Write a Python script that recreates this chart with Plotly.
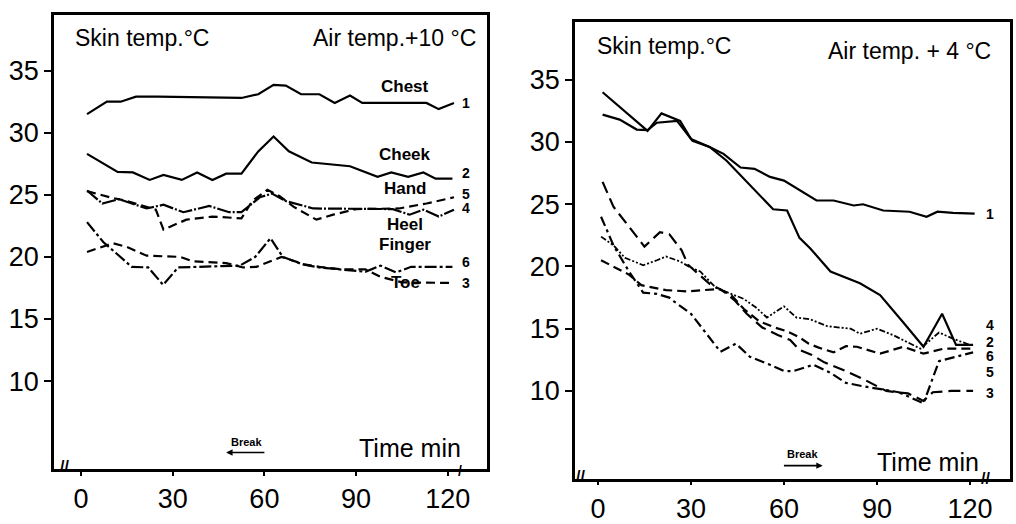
import plotly.graph_objects as go

# ---------------- Left panel: Air temp +10 °C ----------------
L_t_chest = [2, 8.5, 13, 18, 25, 52.5, 58, 63, 67, 72, 78, 83, 88, 92, 102, 113, 117, 122]
L_chest = [31.5, 32.5, 32.5, 32.9, 32.9, 32.8, 33.1, 33.85, 33.8, 33.1, 33.1, 32.4, 33.0, 32.4, 32.4, 32.4, 31.9, 32.4]

L_t_cheek = [2, 12, 17, 22.5, 27, 33, 38, 43, 47.5, 52.5, 58, 63, 68, 75.5, 88, 97, 101.5, 107, 112, 116, 121.5]
L_cheek = [28.3, 26.85, 26.8, 26.2, 26.6, 26.2, 26.8, 26.2, 26.7, 26.7, 28.5, 29.7, 28.5, 27.6, 27.3, 26.45, 26.8, 26.45, 26.8, 26.3, 26.3]

L_t_heel = [2, 7, 12.5, 21.5, 27, 33.5, 42, 48.5, 52.5, 58.5, 62.5, 67, 76, 92, 102, 107.5, 112, 117, 122]
L_heel = [25.35, 24.3, 24.65, 23.9, 24.2, 23.6, 24.1, 23.6, 23.6, 24.8, 25.1, 24.5, 23.9, 23.9, 23.85, 23.4, 23.8, 23.25, 23.8]

L_t_hand = [2, 9.5, 15, 24.5, 27, 34.5, 43, 52.5, 56, 61, 65, 69.5, 77, 82.5, 90, 96.5, 104, 113, 122]
L_hand = [25.3, 24.8, 24.5, 23.8, 22.2, 23.0, 23.25, 23.1, 24.5, 25.4, 24.9, 24.05, 23.0, 23.4, 23.85, 23.9, 23.9, 24.3, 24.8]

L_t_finger = [2, 7.3, 12.2, 16.6, 22, 26.9, 31.8, 42, 52, 57, 62, 66, 72.5, 78, 85, 93, 98, 103, 108, 121.5]
L_finger = [22.8, 21.2, 20.15, 19.2, 19.15, 17.75, 19.15, 19.2, 19.3, 20.0, 21.5, 20.0, 19.4, 19.15, 19.0, 18.8, 19.3, 18.75, 19.2, 19.2]

L_t_toe = [2, 10.5, 15, 21.5, 32.5, 36.5, 47.5, 53, 57.4, 61.8, 65.6, 73, 78, 85, 93, 98, 105, 121.5]
L_toe = [20.4, 21.1, 20.8, 20.1, 20.0, 19.65, 19.5, 19.15, 19.2, 19.65, 20.0, 19.4, 19.2, 19.0, 19.0, 18.4, 17.95, 17.9]

# ---------------- Right panel: Air temp +4 °C ----------------
R_t_1 = [1.5, 7, 12.5, 16, 19, 25.5, 30.5, 36, 40.5, 46, 50.5, 55.5, 60, 66, 70.5, 76, 82.5, 85.5, 92, 100.5, 106, 109.5, 114.5, 121.5]
R_1 = [32.2, 31.8, 31.0, 30.95, 31.55, 31.7, 30.1, 29.6, 29.05, 27.95, 27.85, 27.2, 26.9, 25.95, 25.3, 25.3, 24.9, 25.0, 24.5, 24.4, 24.0, 24.4, 24.3, 24.25]

R_t_2 = [1.5, 16, 20.5, 26.5, 30, 36, 41.5, 56.5, 61, 65, 68.5, 75, 84.5, 91, 98.5, 105, 111, 115.5, 121]
R_2 = [34.0, 30.9, 32.3, 31.7, 30.25, 29.6, 28.5, 24.6, 24.5, 22.3, 21.45, 19.6, 18.65, 17.7, 15.5, 13.55, 16.2, 13.7, 13.7]

R_t_4 = [1, 5, 8.7, 14.6, 19, 22, 26.5, 30, 33, 38, 47, 51, 54.5, 60, 64, 68.5, 74, 78, 81.5, 84.5, 90, 95.5, 104, 110, 114.5, 120]
R_4 = [22.4, 21.7, 20.7, 20.1, 20.5, 20.8, 20.4, 19.9, 19.6, 18.3, 17.4, 16.7, 15.9, 16.8, 15.9, 15.75, 15.2, 15.1, 15.0, 14.6, 15.0, 14.45, 13.4, 14.7, 14.2, 13.7]

R_t_5 = [1, 5, 10, 14.6, 19, 23, 24.5, 30, 35, 39.5, 44.5, 49, 55.5, 60, 63, 69.5, 75, 80, 85, 90, 97, 105, 110, 121]
R_5 = [24.0, 21.7, 19.6, 17.9, 17.8, 17.5, 17.2, 16.2, 14.6, 13.15, 13.8, 12.75, 12.1, 11.6, 11.6, 12.1, 11.45, 10.65, 10.4, 10.2, 9.9, 9.0, 12.4, 13.1]

R_t_6 = [1, 5, 10, 14, 19, 22, 29, 35, 39, 43, 47, 52, 57, 61, 65, 68, 71, 76, 80, 83.5, 91, 98.5, 105, 111.5, 121]
R_6 = [20.5, 20.0, 19.35, 18.5, 18.25, 18.1, 18.0, 18.1, 18.2, 17.7, 16.6, 15.6, 15.1, 14.8, 14.3, 13.8, 13.5, 13.1, 13.6, 13.55, 13.0, 13.55, 13.0, 13.4, 13.4]

R_t_3 = [1.5, 5, 15, 20, 23, 27, 29, 33, 36, 40, 44, 48, 53, 58, 62, 65, 69, 73, 77, 80, 86, 93, 100, 105, 108, 114, 121]
R_3 = [26.8, 24.8, 21.6, 22.75, 22.6, 21.3, 20.15, 19.3, 18.6, 18.1, 17.3, 16.2, 15.1, 14.5, 14.1, 13.3, 12.9, 12.3, 11.9, 11.6, 10.9, 10.0, 9.8, 9.2, 9.9, 10.0, 10.0]

x_ticks = [0, 30, 60, 90, 120]
y_ticks = [10, 15, 20, 25, 30, 35]

# site name labels (left panel) and end numbers
L_names = ["Chest", "Cheek", "Hand", "Heel", "Finger", "Toe"]
L_name_y = [33.7, 28.25, 25.5, 22.6, 21.0, 17.9]
L_nums = ["1", "2", "5", "4", "6", "3"]
L_num_y = [32.4, 26.75, 25.1, 23.9, 19.6, 17.9]
R_nums = ["1", "4", "2", "6", "5", "3"]
R_num_y = [24.2, 15.3, 13.95, 12.8, 11.5, 9.8]

FONT = "Liberation Sans"
BLK = "#000000"

fig = go.Figure()

def add(x, y, dash, xa, ya, w=2.2):
    fig.add_trace(go.Scatter(x=x, y=y, mode="lines", xaxis=xa, yaxis=ya,
                             line=dict(color=BLK, width=w, dash=dash),
                             showlegend=False, hoverinfo="skip"))

add(L_t_chest, L_chest, "solid", "x", "y")
add(L_t_cheek, L_cheek, "solid", "x", "y")
add(L_t_heel, L_heel, "14px,2px,2px,2px", "x", "y")
add(L_t_hand, L_hand, "9px,5px", "x", "y")
add(L_t_finger, L_finger, "12px,3px,3px,3px", "x", "y")
add(L_t_toe, L_toe, "9px,5px", "x", "y")

add(R_t_1, R_1, "solid", "x2", "y2")
add(R_t_2, R_2, "solid", "x2", "y2")
add(R_t_4, R_4, "6px,2px,2px,2px,2px,2px", "x2", "y2", 1.8)
add(R_t_5, R_5, "10px,4px,3px,4px", "x2", "y2")
add(R_t_6, R_6, "9px,5px", "x2", "y2")
add(R_t_3, R_3, "12px,6px", "x2", "y2")

axis_common = dict(showline=True, mirror=True, linecolor=BLK, linewidth=2.8,
                   showgrid=False, zeroline=False, ticks="outside",
                   tickcolor=BLK, tickwidth=2,
                   tickfont=dict(family=FONT, size=27, color=BLK))

fig.update_layout(
    width=1016, height=524,
    margin=dict(l=0, r=0, t=0, b=0),
    paper_bgcolor="white", plot_bgcolor="white",
    xaxis=dict(domain=[54/1016, 487/1016], range=[-8.8, 132.8],
               tickvals=x_ticks, ticklen=4, anchor="y", **axis_common),
    yaxis=dict(domain=[1-476/524, 1-15/524], range=[2.94, 39.5],
               tickvals=y_ticks, ticklen=7, anchor="x", **axis_common),
    xaxis2=dict(domain=[575/1016, 1010/1016], range=[-7.4, 132.9],
                tickvals=x_ticks, ticklen=4, anchor="y2", **axis_common),
    yaxis2=dict(domain=[1-486/524, 1-22/524], range=[2.96, 39.67],
                tickvals=y_ticks, ticklen=7, anchor="x2", **axis_common),
)

ann = []
def txt(x, y, s, xa, ya, size, bold=False, xanchor="center"):
    ann.append(dict(x=x, y=y, xref=xa, yref=ya, text=("<b>%s</b>" % s) if bold else s,
                    showarrow=False, xanchor=xanchor, yanchor="middle",
                    font=dict(family=FONT, size=size, color=BLK)))

# headers
txt(-2.5, 37.6, "Skin temp.°C", "x", "y", 23, xanchor="left")
txt(130, 37.6, "Air temp.+10 °C", "x", "y", 23, xanchor="right")
txt(-1, 37.7, "Skin temp.°C", "x2", "y2", 23, xanchor="left")
txt(127.5, 37.3, "Air temp. + 4 °C", "x2", "y2", 23, xanchor="right")

# axis titles inside frames
txt(107.5, 4.6, "Time min", "x", "y", 25)
txt(106.5, 4.3, "Time min", "x2", "y2", 25)
txt(54, 5.1, "Break", "x", "y", 11, bold=True)
txt(66.1, 4.95, "Break", "x2", "y2", 11, bold=True)

# break arrows
ann.append(dict(x=47.5, y=4.25, ax=60.5, ay=4.25, xref="x", yref="y", axref="x", ayref="y",
                text="", showarrow=True, arrowhead=2, arrowsize=0.8, arrowwidth=1.6, arrowcolor=BLK))
ann.append(dict(x=72.5, y=4.0, ax=59.5, ay=4.0, xref="x2", yref="y2", axref="x2", ayref="y2",
                text="", showarrow=True, arrowhead=2, arrowsize=0.8, arrowwidth=1.6, arrowcolor=BLK))

# curve names (left)
for n, yv in zip(L_names, L_name_y):
    txt(106, yv, n, "x", "y", 17, bold=True)
for n, yv in zip(L_nums, L_num_y):
    txt(126, yv, n, "x", "y", 14, bold=True)
for n, yv in zip(R_nums, R_num_y):
    txt(126.5, yv, n, "x2", "y2", 14, bold=True)

# axis break marks (placed on the x axis lines, paper y)
txt(-5.5, 1 - 474/524, "//", "x", "paper", 16, bold=True)
txt(124, 1 - 478/524, "/", "x", "paper", 14, bold=True)
txt(-5.5, 1 - 484/524, "//", "x2", "paper", 16, bold=True)
txt(125, 1 - 486/524, "//", "x2", "paper", 16, bold=True)

fig.update_layout(annotations=ann)
fig.write_html("out.html")
